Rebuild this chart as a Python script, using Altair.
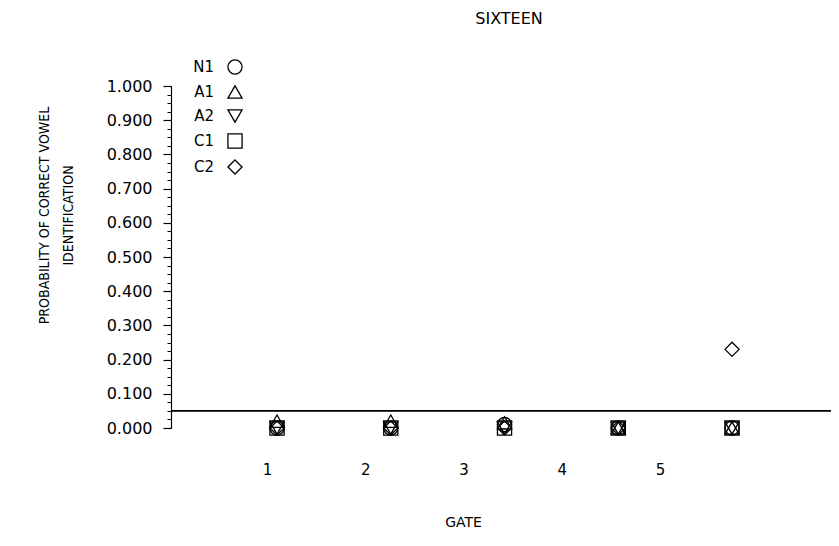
import altair as alt
import pandas as pd

# ---- data ----
gates = [1, 2, 3, 4, 5]
gate_labels = ["1", "2", "3", "4", "5"]
series = ["N1", "A1", "A2", "C1", "C2"]
shapes = ["circle", "triangle-up", "triangle-down", "square", "diamond"]
n1 = [0.000, 0.000, 0.010, 0.000, 0.000]
a1 = [0.020, 0.020, 0.015, 0.000, 0.000]
a2 = [0.000, 0.000, 0.000, 0.000, 0.000]
c1 = [0.000, 0.000, 0.000, 0.000, 0.000]
c2 = [0.000, 0.000, 0.000, 0.000, 0.230]
chance_level = [0.05]
y_major = [0.0, 0.1, 0.2, 0.3, 0.4, 0.5, 0.6, 0.7, 0.8, 0.9, 1.0]
y_minor = [round(i * 0.025, 3) for i in range(41)]

FONT = "DejaVu Sans"
FONT_NARROW = "DejaVu Sans Condensed, DejaVu Sans"

rows = []
for name, vals in zip(series, [n1, a1, a2, c1, c2]):
    for g, v in zip(gates, vals):
        rows.append({"gate": g, "p": v, "series": name})
df = pd.DataFrame(rows)

yscale = alt.Scale(domain=[0, 1], nice=False, zero=True)

points = alt.Chart(df).mark_point(
    filled=False, color="black", size=200, strokeWidth=1.3, opacity=1
).encode(
    x=alt.X("gate:Q", scale=alt.Scale(domain=[0.068, 5.87], nice=False, zero=False), axis=None),
    y=alt.Y(
        "p:Q",
        scale=yscale,
        axis=alt.Axis(
            orient="left",
            values=y_major,
            format=".3f",
            tickSize=8,
            tickColor="black",
            tickWidth=1.2,
            domainColor="black",
            domainWidth=1.2,
            labelPadding=11,
            labelFont=FONT,
            labelFontSize=16,
            labelColor="black",
            grid=False,
            title=["PROBABILITY OF CORRECT VOWEL", "IDENTIFICATION"],
            titleFont=FONT_NARROW,
            titleFontSize=14,
            titleFontWeight="normal",
            titleColor="black",
            titleAngle=-90,
            titleBaseline="top",
            titleAlign="center",
            titleX=-134,
            titleY=129,
            titleLineHeight=24,
        ),
    ),
    shape=alt.Shape(
        "series:N",
        scale=alt.Scale(domain=series, range=shapes),
        legend=alt.Legend(
            title=None,
            orient="none",
            legendX=56,
            legendY=-27,
            padding=0,
            labelAlign="right",
            labelOffset={"expr": "-29"},
            labelFont=FONT,
            labelFontSize=15,
            labelColor="black",
            symbolSize=200,
            symbolStrokeColor="black",
            symbolFillColor="white",
            symbolStrokeWidth=1.3,
            rowPadding=6,
        ),
    ),
)

rule = alt.Chart(pd.DataFrame({"level": chance_level})).mark_rule(
    color="black", strokeWidth=1.6
).encode(y=alt.Y("level:Q", scale=yscale, axis=None))

label_df = pd.DataFrame({"gate": gates, "label": gate_labels, "p": [0.0] * 5})
labels_layer = alt.Chart(label_df).mark_point(opacity=0).encode(
    x=alt.X(
        "gate:Q",
        scale=alt.Scale(domain=[0.023, 6.74], nice=False, zero=False),
        axis=alt.Axis(
            orient="bottom",
            values=gates,
            format="d",
            ticks=False,
            domain=False,
            grid=False,
            labelPadding=34,
            labelFont=FONT,
            labelFontSize=15,
            labelColor="black",
            title="GATE",
            titleFont=FONT,
            titleFontSize=14,
            titleFontWeight="normal",
            titleColor="black",
            titleX=292,
            titleY=87,
            titleBaseline="top",
            titleAlign="center",
        ),
    ),
    y=alt.Y(
        "p:Q",
        scale=yscale,
        axis=alt.Axis(
            orient="left",
            values=y_minor,
            labels=False,
            domain=False,
            grid=False,
            tickSize=4,
            tickColor="black",
            tickWidth=1.0,
            title=None,
        ),
    ),
)

chart = (
    alt.layer(points, rule, labels_layer)
    .resolve_scale(x="independent")
    .resolve_axis(x="independent", y="independent")
    .properties(
        width=660,
        height=342,
        padding={"left": 163, "top": 78, "right": 0, "bottom": 110},
        autosize=alt.AutoSizeParams(type="none"),
        view=alt.ViewBackground(stroke="transparent", strokeWidth=0),
        title=alt.TitleParams(
            "SIXTEEN",
            font=FONT,
            fontSize=16,
            fontWeight="normal",
            color="black",
            anchor="middle",
            dx=8,
            offset=32,
        ),
    )
    .configure_axis(grid=False)
    .configure_view(stroke="transparent", strokeWidth=0)
    .configure(background="white")
)

chart.save("out.html", embed_options={"renderer": "svg", "actions": False})
